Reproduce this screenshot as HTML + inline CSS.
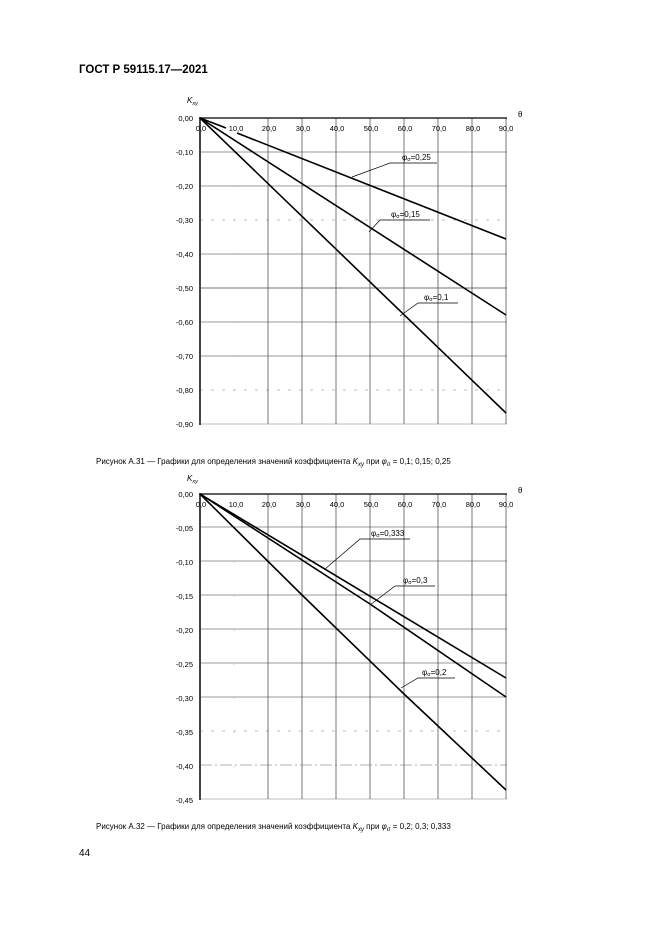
<!DOCTYPE html>
<html><head><meta charset="utf-8"><style>
html,body{margin:0;padding:0;background:#fff;}
svg{display:block;font-family:"Liberation Sans",sans-serif;}
</style></head><body>
<svg width="661" height="935" viewBox="0 0 661 935" xmlns="http://www.w3.org/2000/svg">
<text x="79" y="73" font-size="11.5" font-weight="bold">ГОСТ Р 59115.17—2021</text>

<!-- Chart 1 -->
<g>
<g stroke="#777" stroke-width="0.8">
<line x1="200" y1="152" x2="507" y2="152"/><line x1="200" y1="186" x2="507" y2="186"/>
<line x1="200" y1="220" x2="507" y2="220" stroke-dasharray="3,8" stroke="#aaa"/>
<line x1="200" y1="254" x2="507" y2="254"/><line x1="200" y1="288" x2="507" y2="288" stroke="#444"/>
<line x1="200" y1="322" x2="507" y2="322"/><line x1="200" y1="356" x2="507" y2="356"/>
<line x1="200" y1="390" x2="507" y2="390" stroke-dasharray="3,8" stroke="#aaa"/>
<line x1="200" y1="424" x2="507" y2="424" stroke="#aaa"/>
</g>
<g stroke="#555" stroke-width="0.8">
<line x1="268" y1="118" x2="268" y2="424"/><line x1="302" y1="118" x2="302" y2="424"/>
<line x1="336" y1="118" x2="336" y2="424"/><line x1="370" y1="118" x2="370" y2="424"/>
<line x1="404" y1="118" x2="404" y2="424"/><line x1="438" y1="118" x2="438" y2="424"/>
<line x1="472" y1="118" x2="472" y2="424"/><line x1="506" y1="118" x2="506" y2="424"/>
<line x1="234" y1="118" x2="234" y2="424" stroke="#bbb" stroke-dasharray="1,33"/>
</g>
<line x1="200" y1="118" x2="507" y2="118" stroke="#000" stroke-width="1.2"/>
<line x1="200" y1="117" x2="200" y2="425" stroke="#444" stroke-width="2"/>
<g font-size="7.5" text-anchor="end">
<text x="193" y="121">0,00</text><text x="193" y="155">-0,10</text><text x="193" y="189">-0,20</text>
<text x="193" y="223">-0,30</text><text x="193" y="257">-0,40</text><text x="193" y="291">-0,50</text>
<text x="193" y="325">-0,60</text><text x="193" y="359">-0,70</text><text x="193" y="393">-0,80</text>
<text x="193" y="427">-0,90</text>
</g>
<g font-size="7.5" text-anchor="middle">
<text x="201" y="131">0,0</text><text x="236" y="131">10,0</text><text x="269" y="131">20,0</text>
<text x="303" y="131">30,0</text><text x="337" y="131">40,0</text><text x="371" y="131">50,0</text>
<text x="405" y="131">60,0</text><text x="439" y="131">70,0</text><text x="473" y="131">80,0</text>
<text x="506" y="131">90,0</text>
</g>
<text x="187" y="103" font-size="8" font-style="italic">K<tspan font-size="5.5" dy="2">xy</tspan></text>
<text x="518" y="117" font-size="8">θ</text>
<g fill="none" stroke="#000" stroke-width="1.6">
<line x1="200" y1="118" x2="226" y2="128"/>
<line x1="237" y1="133" x2="506" y2="239"/>
<line x1="200" y1="118" x2="506" y2="315"/>
<line x1="200" y1="118" x2="506" y2="413"/>
</g>
<g stroke="#000" stroke-width="0.7" fill="none">
<polyline points="352,177 390,163 437,163"/>
<polyline points="369,232 380,220 430,220"/>
<polyline points="400,316 418,303 458,303"/>
</g>
<g font-size="8">
<text x="402" y="160">φ<tspan font-size="5.5" dy="1">σ</tspan><tspan dy="-1">=0,25</tspan></text>
<text x="391" y="217">φ<tspan font-size="5.5" dy="1">σ</tspan><tspan dy="-1">=0,15</tspan></text>
<text x="424" y="300">φ<tspan font-size="5.5" dy="1">σ</tspan><tspan dy="-1">=0,1</tspan></text>
</g>
</g>
<text x="96" y="464" font-size="8">Рисунок А.31 — Графики для определения значений коэффициента <tspan font-style="italic">K</tspan><tspan font-style="italic" font-size="6" dy="2">xy</tspan><tspan dy="-2"> при </tspan><tspan font-style="italic">φ</tspan><tspan font-style="italic" font-size="6" dy="2">σ</tspan><tspan dy="-2"> = 0,1; 0,15; 0,25</tspan></text>

<!-- Chart 2 -->
<g>
<g stroke="#777" stroke-width="0.8">
<line x1="200" y1="527" x2="507" y2="527"/><line x1="200" y1="561" x2="507" y2="561"/>
<line x1="200" y1="595" x2="507" y2="595"/><line x1="200" y1="629" x2="507" y2="629"/>
<line x1="200" y1="663" x2="507" y2="663"/><line x1="200" y1="697" x2="507" y2="697"/>
<line x1="200" y1="731" x2="507" y2="731" stroke-dasharray="3,8" stroke="#aaa"/>
<line x1="200" y1="765" x2="507" y2="765" stroke-dasharray="12,3,2,3" stroke="#999"/>
<line x1="200" y1="799" x2="507" y2="799" stroke="#aaa"/>
</g>
<g stroke="#555" stroke-width="0.8">
<line x1="268" y1="494" x2="268" y2="799"/><line x1="302" y1="494" x2="302" y2="799"/>
<line x1="336" y1="494" x2="336" y2="799"/><line x1="370" y1="494" x2="370" y2="799"/>
<line x1="404" y1="494" x2="404" y2="799"/><line x1="438" y1="494" x2="438" y2="799"/>
<line x1="472" y1="494" x2="472" y2="799"/><line x1="506" y1="494" x2="506" y2="799"/>
<line x1="234" y1="494" x2="234" y2="799" stroke="#bbb" stroke-dasharray="1,33"/>
</g>
<line x1="200" y1="494" x2="507" y2="494" stroke="#000" stroke-width="1.2"/>
<line x1="200" y1="493" x2="200" y2="800" stroke="#444" stroke-width="2"/>
<g font-size="7.5" text-anchor="end">
<text x="193" y="497">0,00</text><text x="193" y="531">-0,05</text><text x="193" y="565">-0,10</text>
<text x="193" y="599">-0,15</text><text x="193" y="633">-0,20</text><text x="193" y="667">-0,25</text>
<text x="193" y="701">-0,30</text><text x="193" y="735">-0,35</text><text x="193" y="769">-0,40</text>
<text x="193" y="803">-0,45</text>
</g>
<g font-size="7.5" text-anchor="middle">
<text x="201" y="507">0,0</text><text x="236" y="507">10,0</text><text x="269" y="507">20,0</text>
<text x="303" y="507">30,0</text><text x="337" y="507">40,0</text><text x="371" y="507">50,0</text>
<text x="405" y="507">60,0</text><text x="439" y="507">70,0</text><text x="473" y="507">80,0</text>
<text x="506" y="507">90,0</text>
</g>
<text x="187" y="481" font-size="8" font-style="italic">K<tspan font-size="5.5" dy="2">xy</tspan></text>
<text x="518" y="493" font-size="8">θ</text>
<g fill="none" stroke="#000" stroke-width="1.6">
<line x1="200" y1="494" x2="506" y2="678"/>
<polyline points="200,494 370,604 506,697"/>
<polyline points="200,494 302,595 404,694 506,790"/>
</g>
<g stroke="#000" stroke-width="0.7" fill="none">
<polyline points="325,569 360,539 410,539"/>
<polyline points="370,605 395,586 435,586"/>
<polyline points="401,688 418,678 455,678"/>
</g>
<g font-size="8">
<text x="371" y="536">φ<tspan font-size="5.5" dy="1">σ</tspan><tspan dy="-1">=0,333</tspan></text>
<text x="403" y="583">φ<tspan font-size="5.5" dy="1">σ</tspan><tspan dy="-1">=0,3</tspan></text>
<text x="422" y="675">φ<tspan font-size="5.5" dy="1">σ</tspan><tspan dy="-1">=0,2</tspan></text>
</g>
</g>
<text x="96" y="829" font-size="8">Рисунок А.32 — Графики для определения значений коэффициента <tspan font-style="italic">K</tspan><tspan font-style="italic" font-size="6" dy="2">xy</tspan><tspan dy="-2"> при </tspan><tspan font-style="italic">φ</tspan><tspan font-style="italic" font-size="6" dy="2">σ</tspan><tspan dy="-2"> = 0,2; 0,3; 0,333</tspan></text>

<text x="79" y="856" font-size="10">44</text>
</svg>
</body></html>
